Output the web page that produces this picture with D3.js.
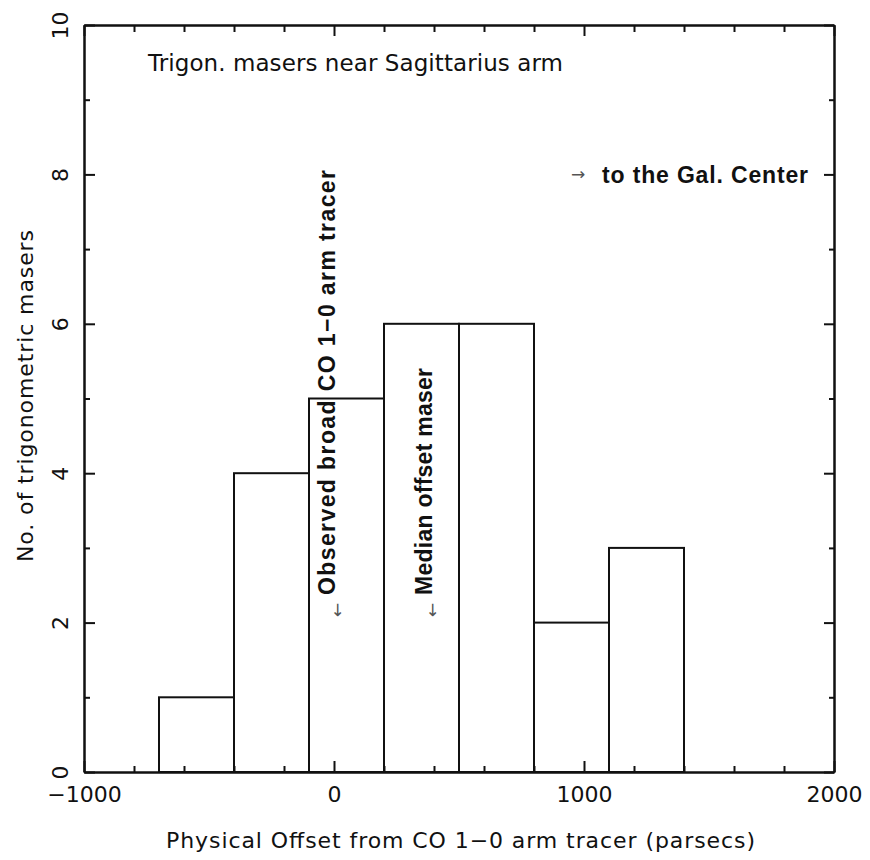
<!DOCTYPE html>
<html>
<head>
<meta charset="utf-8">
<script src="https://cdn.jsdelivr.net/npm/d3@7"></script>
<style>
  html, body { margin: 0; padding: 0; background: #fff; }
  svg { display: block; }
</style>
</head>
<body>
<svg id="chart" width="870" height="860"></svg>
<script>
// Histogram of maser offsets from the CO arm tracer (parsecs)
const binEdges = [-700, -400, -100, 200, 500, 800, 1100, 1400];
const counts = [1, 4, 5, 6, 6, 2, 3];

const xMajorTicks = [-1000, 0, 1000, 2000];
const xMinorTicks = [-800, -600, -400, -200, 200, 400, 600, 800, 1200, 1400, 1600, 1800];
const yMajorTicks = [0, 2, 4, 6, 8, 10];
const yMinorTicks = [1, 3, 5, 7, 9];

const coTracerOffset = 0;      // observed broad CO 1-0 arm tracer
const medianMaserOffset = 400; // median offset of the masers

const titleText = "Trigon. masers near Sagittarius arm";
const xLabelText = "Physical Offset from CO 1\u22120 arm tracer (parsecs)";
const yLabelText = "No. of trigonometric masers";
const coLabelText = "Observed broad CO 1\u22120 arm tracer";
const medianLabelText = "Median offset maser";
const galCenterText = "to the Gal. Center";

const svg = d3.select("#chart");
const ink = "#111";
const regular = "'DejaVu Sans', sans-serif";
const bold = "'Liberation Sans', Arial, sans-serif";

const plot = { left: 84, right: 834, top: 25, bottom: 772 };

const x = d3.scaleLinear().domain([-1000, 2000]).range([plot.left, plot.right]);
const y = d3.scaleLinear().domain([0, 10]).range([plot.bottom, plot.top]);

// Bars
const bins = counts.map((c, i) => ({ x0: binEdges[i], x1: binEdges[i + 1], n: c }));
svg.append("g")
  .selectAll("rect")
  .data(bins)
  .join("rect")
  .attr("x", d => x(d.x0))
  .attr("y", d => y(d.n))
  .attr("width", d => x(d.x1) - x(d.x0))
  .attr("height", d => y(0) - y(d.n))
  .attr("fill", "none")
  .attr("stroke", ink)
  .attr("stroke-width", 2);

// Axes: inward-pointing ticks on all four sides
function styleAxis(g) {
  g.selectAll(".domain").attr("stroke", ink).attr("stroke-width", 2);
  g.selectAll(".tick line").attr("stroke", ink).attr("stroke-width", 2);
  g.attr("font-family", regular).attr("font-size", 22);
  g.selectAll(".tick text").attr("fill", ink);
}

function addAxis(gen, transform, ticks, size, labelled) {
  const g = svg.append("g").attr("transform", transform)
    .call(gen.tickValues(ticks).tickSizeInner(-size).tickSizeOuter(0)
      .tickFormat(labelled ? d3.format("") : () => ""));
  styleAxis(g);
  return g;
}

const bottomMajor = addAxis(d3.axisBottom(x), `translate(0,${plot.bottom})`, xMajorTicks, 11, true);
addAxis(d3.axisBottom(x), `translate(0,${plot.bottom})`, xMinorTicks, 6, false);
addAxis(d3.axisTop(x), `translate(0,${plot.top})`, xMajorTicks, 11, false);
addAxis(d3.axisTop(x), `translate(0,${plot.top})`, xMinorTicks, 7, false);
const leftMajor = addAxis(d3.axisLeft(y), `translate(${plot.left},0)`, yMajorTicks, 11, true);
addAxis(d3.axisLeft(y), `translate(${plot.left},0)`, yMinorTicks, 6, false);
addAxis(d3.axisRight(y), `translate(${plot.right},0)`, yMajorTicks, 10, false);
addAxis(d3.axisRight(y), `translate(${plot.right},0)`, yMinorTicks, 5, false);

bottomMajor.selectAll(".tick text")
  .attr("y", 30).attr("dy", 0).attr("text-anchor", "middle");

leftMajor.selectAll(".tick text")
  .attr("x", 0).attr("dy", 0)
  .attr("text-anchor", "middle")
  .attr("transform", "translate(-16,0) rotate(-90)");

// Text helper
function label(opts) {
  const t = svg.append("text")
    .attr("font-family", opts.family || regular)
    .attr("font-size", opts.size || 22)
    .attr("font-weight", opts.weight || "normal")
    .attr("fill", opts.fill || ink)
    .attr("text-anchor", opts.anchor || "start")
    .attr("transform", `translate(${opts.x},${opts.y})` + (opts.rotate ? ` rotate(${opts.rotate})` : ""))
    .text(opts.text);
  if (opts.length) t.attr("textLength", opts.length).attr("lengthAdjust", "spacing");
  return t;
}

// Title inside the frame
label({ text: titleText, x: 148, y: 71, size: 23, length: 415 });

// Axis titles
label({ text: xLabelText, x: 166, y: 848, size: 22, length: 589 });
label({ text: yLabelText, x: 33, y: 562, size: 22, rotate: -90, length: 332 });

// Vertical annotations with downward arrows
const arrowInk = "#555";
label({ text: "\u2190", x: x(coTracerOffset) + 9, y: 617, size: 17, fill: arrowInk, rotate: -90 });
label({ text: coLabelText, x: x(coTracerOffset) + 1, y: 595, size: 23, weight: "bold",
        family: bold, rotate: -90, length: 425 });

label({ text: "\u2190", x: x(medianMaserOffset) + 4, y: 617, size: 17, fill: arrowInk, rotate: -90 });
label({ text: medianLabelText, x: x(medianMaserOffset) - 2, y: 595, size: 23, weight: "bold",
        family: bold, rotate: -90, length: 227 });

// Direction note
label({ text: "\u2192", x: 571, y: 180, size: 17, fill: arrowInk });
label({ text: galCenterText, x: 602, y: 183, size: 23, weight: "bold", family: bold, length: 206 });
</script>
</body>
</html>
